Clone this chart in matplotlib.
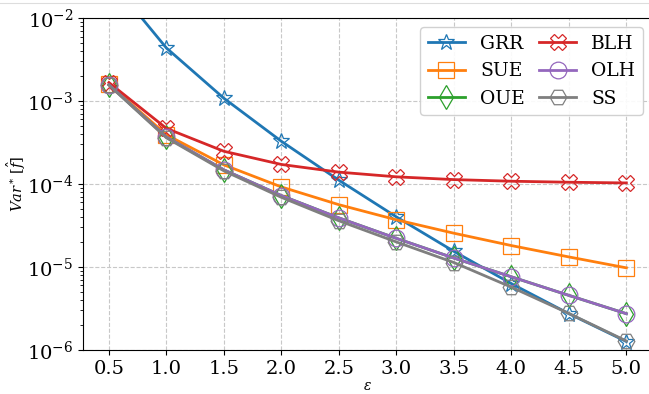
import matplotlib
matplotlib.use("Agg")
import matplotlib.pyplot as plt
from matplotlib.lines import Line2D

plt.rcParams['font.family'] = 'DejaVu Serif'
plt.rcParams['mathtext.fontset'] = 'dejavuserif'

eps = [0.5, 1.0, 1.5, 2.0, 2.5, 3.0, 3.5, 4.0, 4.5, 5.0]
grr = [3.03e-2, 4.36e-3, 1.08e-3, 3.27e-4, 1.11e-4, 4.01e-5, 1.54e-5, 6.29e-6, 2.73e-6, 1.26e-6]
sue = [1.59e-3, 3.92e-4, 1.70e-4, 9.21e-5, 5.63e-5, 3.70e-5, 2.55e-5, 1.81e-5, 1.32e-5, 9.75e-6]
oue = [1.57e-3, 3.68e-4, 1.48e-4, 7.24e-5, 3.90e-5, 2.21e-5, 1.28e-5, 7.60e-6, 4.54e-6, 2.73e-6]
blh = [1.67e-3, 4.68e-4, 2.48e-4, 1.72e-4, 1.39e-4, 1.22e-4, 1.13e-4, 1.08e-4, 1.05e-4, 1.03e-4]
olh = [1.57e-3, 3.68e-4, 1.48e-4, 7.24e-5, 3.90e-5, 2.21e-5, 1.28e-5, 7.60e-6, 4.54e-6, 2.73e-6]
ss = [1.56e-3, 3.60e-4, 1.44e-4, 6.90e-5, 3.60e-5, 2.00e-5, 1.13e-5, 5.70e-6, 2.75e-6, 1.28e-6]

series = [
    ("GRR", grr, "tab:blue", "*"),
    ("SUE", sue, "tab:orange", "s"),
    ("OUE", oue, "tab:green", "d"),
    ("BLH", blh, "tab:red", "X"),
    ("OLH", olh, "tab:purple", "o"),
    ("SS", ss, "tab:gray", "H"),
]

fig = plt.figure(figsize=(6.49, 3.94), dpi=100)
ax = fig.add_axes([0.128, 0.112, 0.877, 0.842])

for name, vals, col, mk in series:
    ax.plot(eps, vals, color=col, marker=mk, markersize=12, markerfacecolor='none',
            markeredgewidth=0.9, linewidth=2, label=name)

ax.set_yscale('log')
ax.set_ylim(1e-6, 1e-2)
ax.set_xticks(eps)
ax.tick_params(axis='both', labelsize=14)
ax.grid(True, which='major', linestyle='--', color='#c8c8c8', linewidth=0.8)
ax.set_xlabel(r'$\epsilon$', fontsize=10, labelpad=1)
ax.set_ylabel(r'$Var^*\,[\hat{f}]$', fontsize=10.5, labelpad=-1)

ax.legend(ncol=2, loc='upper right', fontsize=13.5, handlelength=2, columnspacing=0.75,
          framealpha=0.9)

# thin border line at the top of the crop
fig.add_artist(Line2D([0, 1], [0.992, 0.992], color='#dddddd', linewidth=0.8))

fig.savefig("out.png", dpi=100)
